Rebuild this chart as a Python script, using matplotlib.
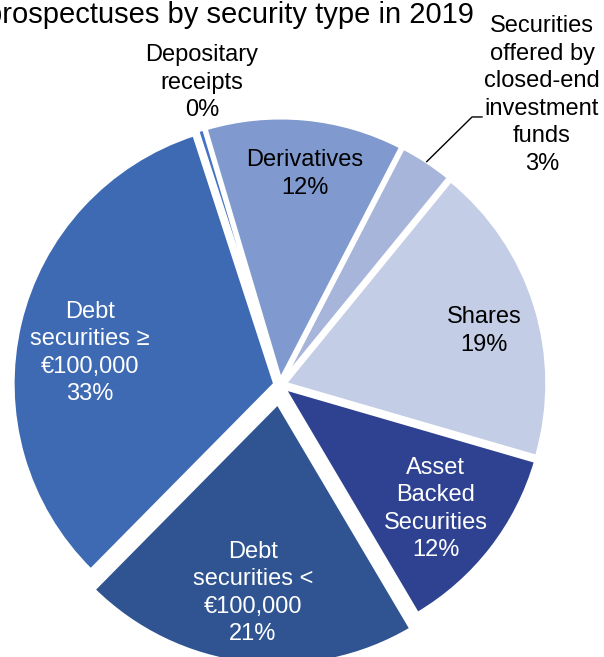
import numpy as np
import matplotlib.pyplot as plt

plt.rcParams['font.family'] = ['Liberation Sans', 'DejaVu Sans']

# Data (clockwise, starting with the thin sliver near 12 o'clock)
names = [['Depositary', 'receipts'],
         ['Derivatives'],
         ['Securities', 'offered by', 'closed-end', 'investment', 'funds'],
         ['Shares'],
         ['Asset', 'Backed', 'Securities'],
         ['Debt', 'securities <', '\u20ac100,000'],
         ['Debt', 'securities \u2265', '\u20ac100,000']]
shares = [0.4, 12.2, 3.3, 18.6, 12.0, 20.9, 32.6]
colors = ['#4472C4', '#8099CE', '#A7B5DA', '#C3CDE5', '#2E4291', '#2F5491', '#3E6AB3']
text_colors = ['black', 'black', 'black', 'black', 'white', 'white', 'white']
explode = [0.02, 0.02, 0.02, 0.02, 0.02, 0.07, 0.02]

R_PX = 262.0          # pie radius in pixels
CX, CY = 280, 385     # pie centre in pixels
W, H = 604, 657

fig = plt.figure(figsize=(W / 100, H / 100), dpi=100)
ax = fig.add_axes([0, 0, 1, 1])

wedges, _ = ax.pie(shares, colors=colors, explode=explode, startangle=108,
                   counterclock=False, radius=1.0,
                   wedgeprops=dict(edgecolor='white', linewidth=2.5))

# pie() resets the limits, so set them afterwards
ax.set_xlim(-CX / R_PX, (W - CX) / R_PX)
ax.set_ylim(-(H - CY) / R_PX, CY / R_PX)
ax.set_aspect('auto')
ax.axis('off')

pitch = 27.5 / R_PX
fs = 17

# label centres (pie radius units), placed like in the original
label_pos = [(-0.298, 1.153), (0.095, 0.805), (1.0, 1.107), (0.779, 0.206),
             (0.595, -0.473), (-0.103, -0.794), (-0.725, 0.122)]


def put_lines(x, y, lines, color):
    n = len(lines)
    for i, s in enumerate(lines):
        ax.text(x, y + ((n - 1) / 2 - i) * pitch, s, ha='center', va='center',
                fontsize=fs, color=color)


for i, w in enumerate(wedges):
    lines = names[i] + ['%d%%' % round(shares[i])]
    if i == 2:
        # leader line from the small slice to its outside label
        mid = np.deg2rad((w.theta1 + w.theta2) / 2)
        ex = explode[i]
        x0 = (1 + ex) * np.cos(mid)
        y0 = (1 + ex) * np.sin(mid)
        ax.plot([x0, 0.733, 0.771], [y0, 1.023, 1.023], color='black', lw=1)
    put_lines(label_pos[i][0], label_pos[i][1], lines, text_colors[i])

ax.text(0.74, 1.412, 'prospectuses by security type in 2019', ha='right',
        va='center', fontsize=21, color='black')

fig.savefig('out.png', dpi=100)
